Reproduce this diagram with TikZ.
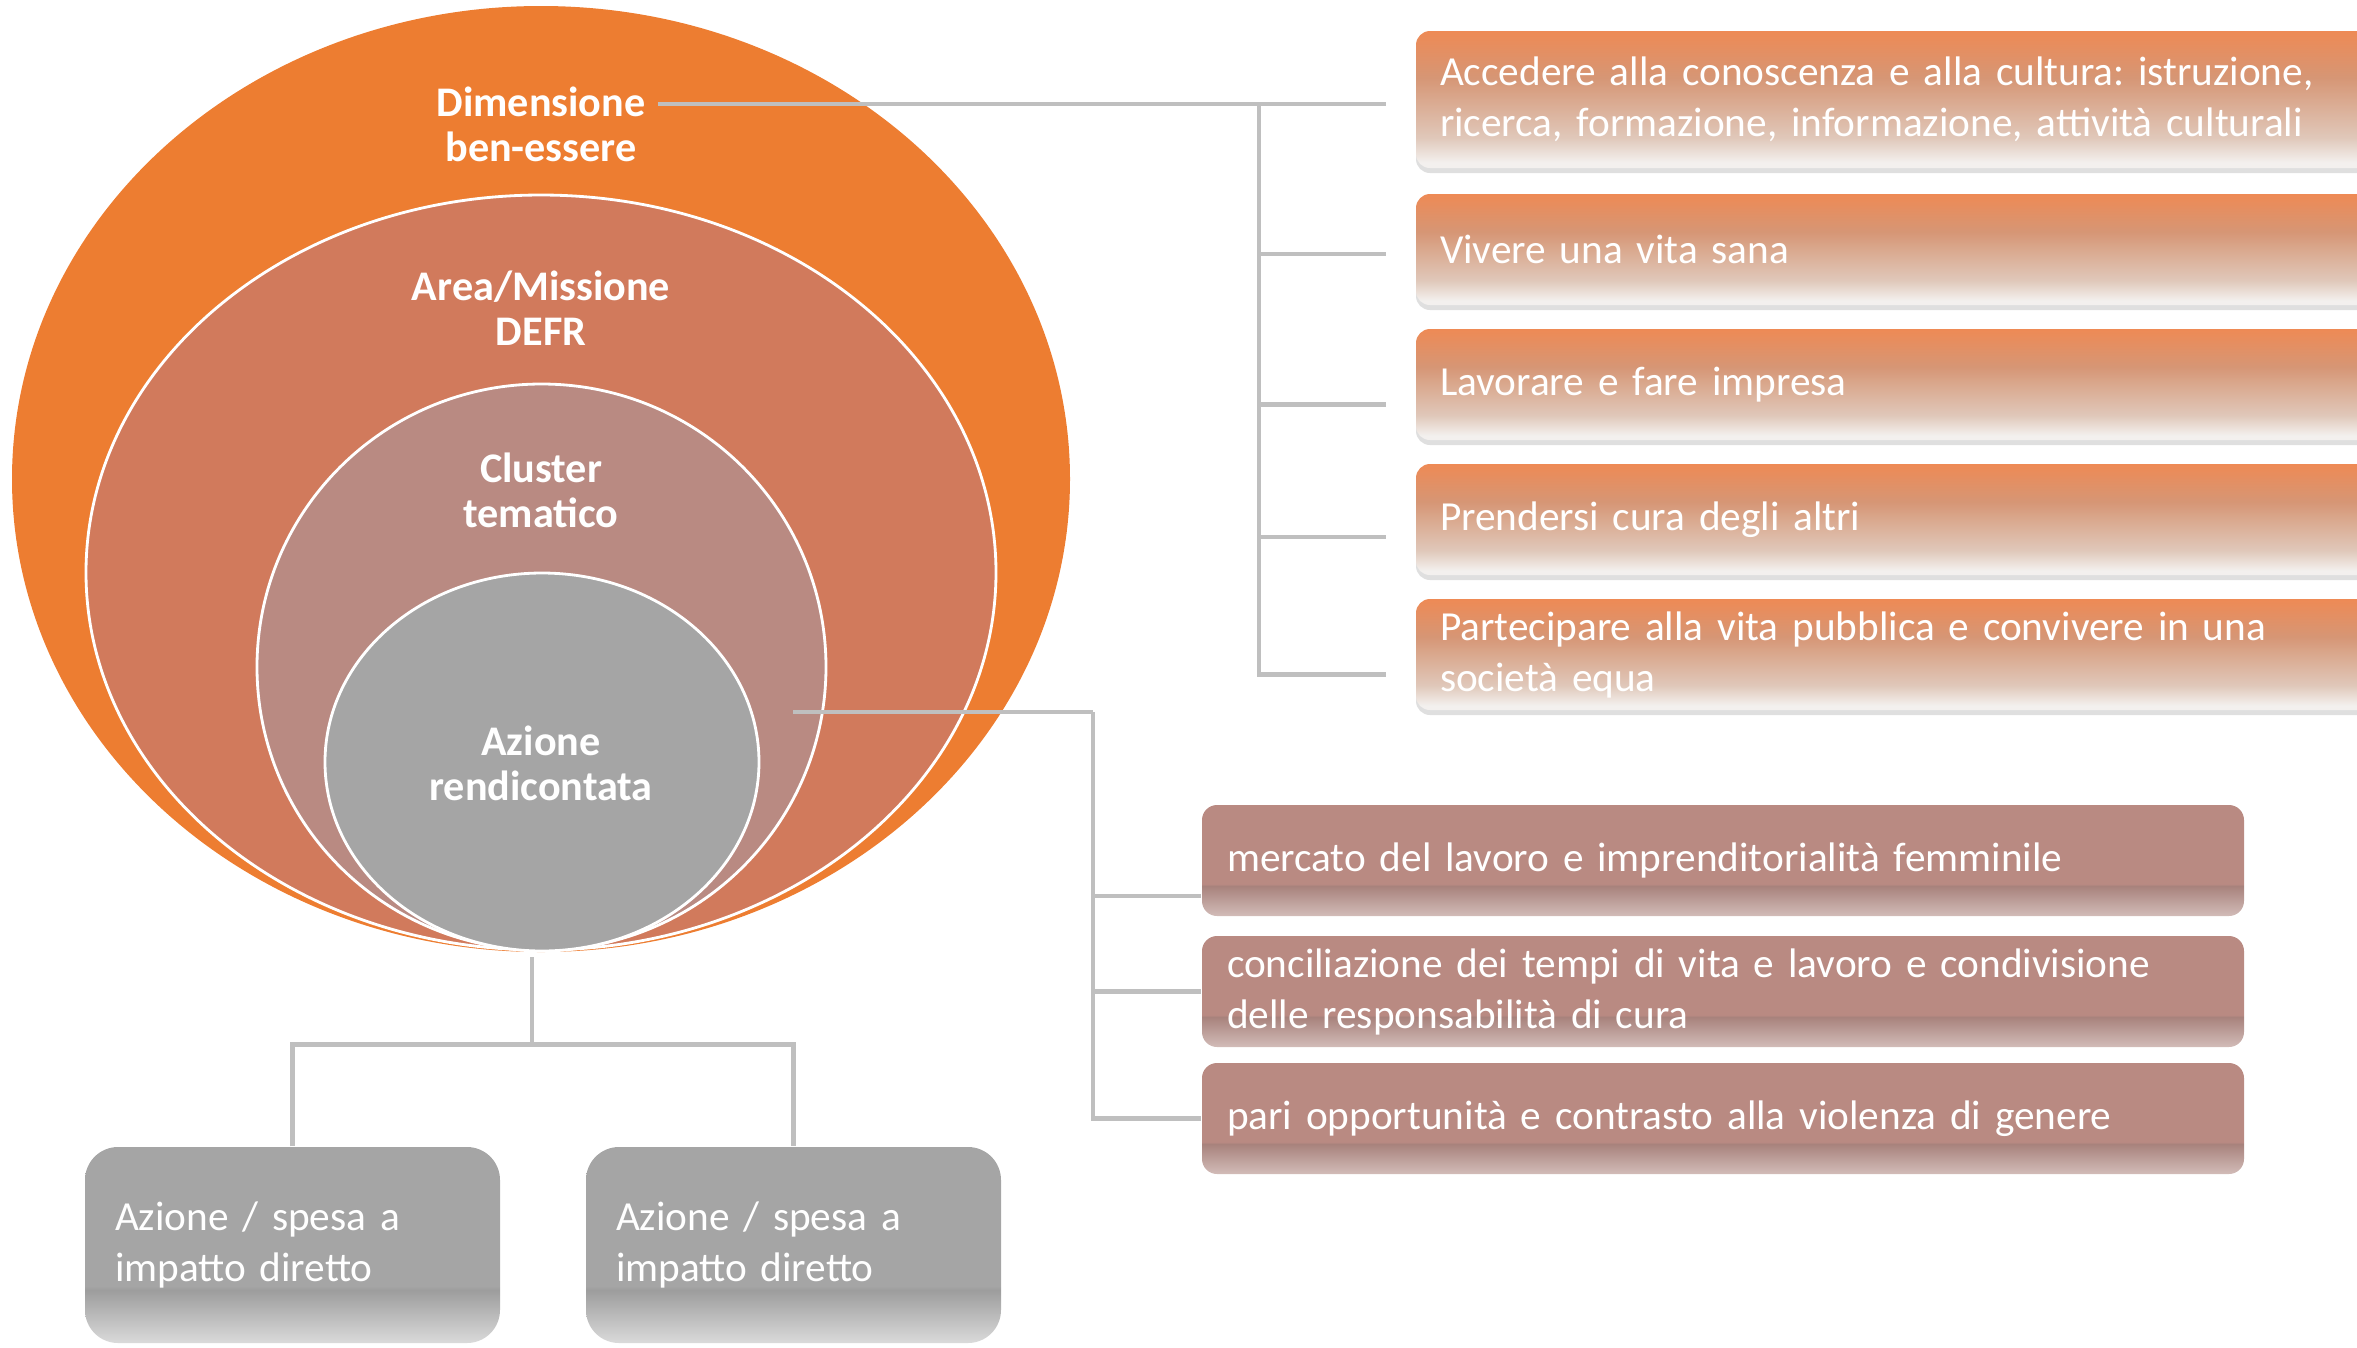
\documentclass[tikz,border=0pt]{standalone}
\usepackage{fontspec}
\setmainfont{Carlito}
\frenchspacing
\usetikzlibrary{positioning, shapes.geometric, shadows}

\definecolor{dimorange}{RGB}{237,125,49}
\definecolor{areared}{RGB}{209,122,92}
\definecolor{clusmauve}{RGB}{185,138,130}
\definecolor{azgray}{RGB}{165,165,165}
\definecolor{linegray}{RGB}{191,191,191}
\definecolor{otop}{RGB}{238,138,85}
\definecolor{omid}{RGB}{214,150,117}
\definecolor{olow}{RGB}{224,200,186}
\definecolor{obot}{RGB}{243,240,238}
\definecolor{mdark}{RGB}{168,130,124}
\definecolor{mlow}{RGB}{210,188,184}
\definecolor{gdark}{RGB}{157,157,157}
\definecolor{glow}{RGB}{218,218,218}

% fades for the boxes
\pgfdeclareverticalshading{ofade}{100bp}{color(0bp)=(obot); color(27bp)=(obot); color(36bp)=(olow); color(58bp)=(omid); color(75bp)=(otop); color(100bp)=(otop)}
\pgfdeclareverticalshading{mband}{100bp}{color(0bp)=(mlow); color(25bp)=(mlow); color(38.5bp)=(mdark); color(39.5bp)=(clusmauve); color(100bp)=(clusmauve)}
\pgfdeclareverticalshading{gband}{100bp}{color(0bp)=(glow); color(25bp)=(glow); color(38.5bp)=(gdark); color(39.5bp)=(azgray); color(100bp)=(azgray)}

\begin{document}
\begin{tikzpicture}[
    % GLOBAL CFG
    font=\fontsize{11.75}{14.5}\selectfont,
    % Styles
    ring/.style={% For the nested ellipses
        ellipse,
        inner sep=0pt,
        draw=white,
        line width=0.8pt,
        },
    elabel/.style={% Titles inside the ellipses
        text=white,
        align=center,
        font=\fontsize{12}{12.8}\selectfont\bfseries,
        },
    wellbox/.style={% Orange boxes on the right
        rectangle,
        rounded corners=0.14cm,
        shade,
        shading=ofade,
        minimum width=9.64cm,
        minimum height=1.11cm,
        text width=9.16cm,
        inner xsep=0.24cm,
        align=left,
        text=white,
        drop shadow={shadow xshift=0cm, shadow yshift=-0.05cm, opacity=0.25},
        },
    topicbox/.style={% Mauve boxes for the cluster
        rectangle,
        rounded corners=0.15cm,
        shade,
        shading=mband,
        minimum width=10.42cm,
        minimum height=1.11cm,
        text width=9.92cm,
        inner xsep=0.25cm,
        align=left,
        text=white,
        },
    spendbox/.style={% Grey boxes at the bottom
        rectangle,
        rounded corners=0.33cm,
        shade,
        shading=gband,
        minimum width=4.15cm,
        minimum height=1.96cm,
        text width=3.55cm,
        inner xsep=0.3cm,
        align=left,
        text=white,
        },
    link/.style={% Grey connectors
        draw=linegray,
        line width=1.2pt,
        },
    ]

    \useasboundingbox (0,0) rectangle (23.57,-13.47);

    % Draw the rings
    \node[ring, draw=none, fill=dimorange, minimum width=10.58cm, minimum height=9.46cm] (dimE) at (5.41,-4.79) {};
    \node[ring, fill=areared, minimum width=9.10cm, minimum height=7.55cm] (areaE) at (5.41,-5.725) {};
    \node[ring, fill=clusmauve, minimum width=5.69cm, minimum height=5.66cm] (clusE) at (5.415,-6.67) {};
    \node[ring, fill=azgray, minimum width=4.34cm, minimum height=3.78cm] (azE) at (5.42,-7.62) {};

    % Titles of the rings
    \node[elabel] (dimL) at (5.41,-1.24) {Dimensione\\ben-essere};
    \node[elabel] (areaL) at (5.41,-3.085) {Area/Missione\\DEFR};
    \node[elabel] (clusL) at (5.41,-4.905) {Cluster\\tematico};
    \node[elabel] (azL) at (5.41,-7.63) {Azione\\rendicontata};

    % Dimensions of well-being
    \node[wellbox, minimum height=1.37cm] (acc) at (18.98,-0.995) {Accedere alla conoscenza e alla cultura: istruzione,\\ricerca, formazione, informazione, attività culturali};
    \node[wellbox] (viv) at (18.98,-2.495) {Vivere una vita sana};
    \node[wellbox] (lav) at (18.98,-3.845) {Lavorare e fare impresa};
    \node[wellbox] (pre) at (18.98,-5.195) {Prendersi cura degli altri};
    \node[wellbox] (par) at (18.98,-6.545) {Partecipare alla vita pubblica e convivere in una\\società equa};

    % Cluster topics
    \node[topicbox] (mkt) at (17.23,-8.605) {mercato del lavoro e imprenditorialità femminile};
    \node[topicbox] (con) at (17.23,-9.915) {conciliazione dei tempi di vita e lavoro e condivisione\\delle responsabilità di cura};
    \node[topicbox] (opp) at (17.23,-11.185) {pari opportunità e contrasto alla violenza di genere};

    % Spending actions
    \node[spendbox] (spL) at (2.925,-12.45) {Azione / spesa a\\impatto diretto};
    \node[spendbox] (spR) at (7.935,-12.45) {Azione / spesa a\\impatto diretto};

% Start connecting all.
    % Dimensione to the right boxes
    \path (dimL.east) ++(0,0.2) coordinate (dimOut);
    \path (dimOut -| acc.west) ++(-1.56,0) coordinate (brk);
    \draw[link, shorten >=0.29cm] (dimOut) -- (dimOut -| acc.west);
    \draw[link, shorten >=0.29cm] (brk) |- ([yshift=-0.045cm]viv.west);
    \draw[link, shorten >=0.29cm] (brk) |- ([yshift=-0.2cm]lav.west);
    \draw[link, shorten >=0.29cm] (brk) |- ([yshift=-0.175cm]pre.west);
    \draw[link, shorten >=0.29cm] (brk) |- ([yshift=-0.2cm]par.west);

    % Cluster to the topics
    \path (azE.center) ++(2.51,0.5) coordinate (azOut);
    \path (azOut -| mkt.west) ++(-1.08,0) coordinate (brk2);
    \draw[link] (azOut) -- (brk2);
    \draw[link] (brk2) |- ([yshift=-0.355cm]mkt.west);
    \draw[link] (brk2) |- (con.west);
    \draw[link] (brk2) |- (opp.west);

    % Azione down to the spending
    \path (azE.south) ++(-0.1,-0.92) coordinate (fork);
    \draw[link] ([xshift=-0.1cm, yshift=-0.05cm]azE.south) -- (fork);
    \draw[link] (spL.north) |- (fork) -| (spR.north);

\end{tikzpicture}
\end{document}
